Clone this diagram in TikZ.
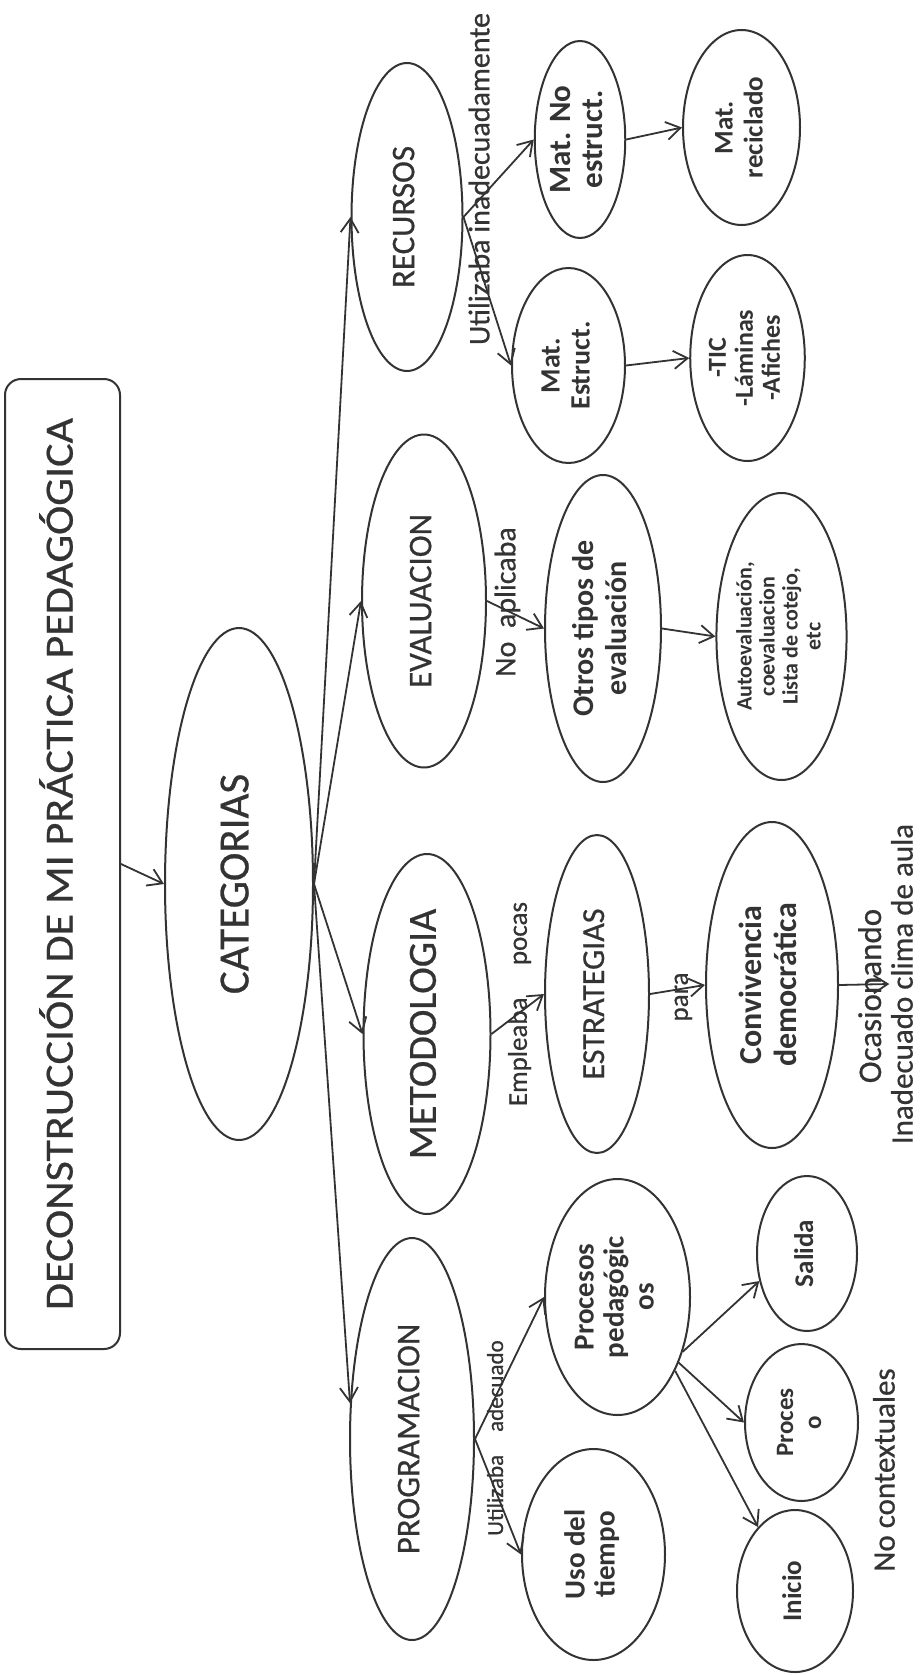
\documentclass[tikz,border=0pt]{standalone}
\usepackage{fontspec}
\setmainfont{Carlito}[UprightFeatures={FakeBold=0.6}]
\newfontfamily\titlefont{Carlito}[FakeStretch=1.1, FakeBold=0.6]
\usepackage{graphicx}
\usetikzlibrary{arrows.meta,shapes.geometric}
\definecolor{ink}{gray}{0.2}
\newcommand{\fs}[2]{\fontsize{#1}{#2}\selectfont}
\newcommand{\vtext}[1]{\rotatebox{90}{\makebox[0pt]{\begin{tabular}{@{}c@{}}#1\end{tabular}}}}
\tikzstyle{bubble}=[
	ellipse,
	draw=ink,
	line width=2pt,
	inner sep=0pt,
	text=ink
]
\tikzstyle{heading}=[
	rectangle,
	rounded corners=16pt,
	draw=ink,
	line width=2pt,
	inner sep=0pt,
	text=ink
]
\tikzstyle{category}=[bubble, font=\fs{33}{36}]
\tikzstyle{leaf}=[bubble, font=\bfseries\fs{29}{30}]
\tikzstyle{caption}=[inner sep=0pt, text=ink, font=\fs{30}{32}]
\tikzstyle{link}=[
	-{Straight Barb[length=14pt,width=18pt]},
	line width=1.8pt,
	draw=ink
]

\begin{document}
\begin{tikzpicture}[x=1pt, y=-1pt]
\useasboundingbox (0,0) rectangle (921,1675);
% title and root
\node [heading, minimum width=115pt, minimum height=970pt, font=\titlefont\fs{40}{44}] (Title) at (62.5,864) {\vtext{DECONSTRUCCIÓN DE MI PRÁCTICA PEDAGÓGICA}};
\node [bubble, minimum width=148pt, minimum height=512pt, font=\fs{43}{47}] (Categorias) at (239,884) {\vtext{CATEGORIAS}};
% categories
\node [category, minimum width=111pt, minimum height=308pt] (Recursos) at (407,217) {\vtext{RECURSOS}};
\node [category, minimum width=124pt, minimum height=333pt] (Evaluacion) at (424,601) {\vtext{EVALUACION}};
\node [category, minimum width=127pt, minimum height=360pt, font=\fs{40}{44}] (Metodologia) at (427,1034) {\vtext{METODOLOGIA}};
\node [category, minimum width=124pt, minimum height=402pt] (Programacion) at (412,1439) {\vtext{PROGRAMACION}};
% recursos
\node [leaf, minimum width=90pt, minimum height=197pt, font=\bfseries\fs{31}{32}] (MatNoEstruct) at (580,139.5) {\vtext{Mat. No\\estruct.}};
\node [leaf, minimum width=113pt, minimum height=195pt, font=\bfseries\fs{28}{30}] (MatEstruct) at (568.5,365.5) {\vtext{Mat.\\Estruct.}};
\node [leaf, minimum width=117pt, minimum height=195pt, font=\bfseries\fs{27}{30}] (MatReciclado) at (741.5,127.5) {\vtext{Mat.\\reciclado}};
\node [leaf, minimum width=105pt, minimum height=206pt, font=\bfseries\fs{26}{27}] (Tic) at (747.5,358) {\vtext{-TIC\\-Láminas\\-Afiches}};
% evaluacion
\node [leaf, minimum width=116pt, minimum height=307pt, font=\bfseries\fs{30}{33}] (OtrosTipos) at (603,628.5) {\vtext{Otros tipos de\\evaluación}};
\node [leaf, minimum width=127pt, minimum height=287pt, font=\bfseries\fs{22}{23}] (Autoevaluacion) at (781.5,636.5) {\vtext{Autoevaluación,\\coevaluacion\\Lista de cotejo,\\etc}};
% metodologia
\node [category, minimum width=104pt, minimum height=318pt, font=\fs{32}{35}] (Estrategias) at (597,994) {\vtext{ESTRATEGIAS}};
\node [leaf, minimum width=132pt, minimum height=326pt, font=\bfseries\fs{32}{35}] (Convivencia) at (772,985) {\vtext{Convivencia\\democrática}};
\node [caption, font=\fs{31}{33}] (Inadecuado) at (906,984) {\vtext{Inadecuado clima de aula}};
% programacion
\node [leaf, minimum width=145pt, minimum height=236pt] (ProcesosPedagogicos) at (617.5,1297) {\vtext{Procesos\\pedagógic\\os}};
\node [leaf, minimum width=143pt, minimum height=211pt] (UsoTiempo) at (593.5,1554.5) {\vtext{Uso del\\tiempo}};
\node [leaf, minimum width=100pt, minimum height=155pt, font=\bfseries\fs{27}{30}] (Salida) at (807,1253.5) {\vtext{Salida}};
\node [leaf, minimum width=113pt, minimum height=157pt, font=\bfseries\fs{25}{28}] (Proceso) at (801.5,1422.5) {\vtext{Proces\\o}};
\node [leaf, minimum width=116pt, minimum height=162pt, font=\bfseries\fs{27}{30}] (Inicio) at (795,1591) {\vtext{Inicio}};
\node [caption, font=\fs{31}{33}] (NoContextuales) at (888,1470) {\vtext{No contextuales}};

% connectors
\draw [link] (Title.east) -- (Categorias.west);
\path (Categorias.east)
	edge [link] (Recursos.west)
	edge [link] (Evaluacion.west)
	edge [link] (Metodologia.west)
	edge [link] (Programacion.150);
\path (Recursos.east)
	edge [link] (MatNoEstruct.west)
	edge [link] (MatEstruct.west);
\draw [link] (MatNoEstruct.east) -- (MatReciclado.west);
\draw [link] (MatEstruct.east) -- (Tic.west);
\draw [link] (Evaluacion.east) -- (OtrosTipos.west);
\draw [link] (OtrosTipos.east) -- (Autoevaluacion.west);
\draw [link] (Metodologia.east) -- (Estrategias.west);
\draw [link] (Estrategias.east) -- (Convivencia.west);
\draw [link] (Convivencia.east) -- (Inadecuado.west);
\path (Programacion.east)
	edge [link] (UsoTiempo.west)
	edge [link] (ProcesosPedagogicos.west);
\draw [link] (ProcesosPedagogicos.-40) -- (Salida.210);
\draw [link] (ProcesosPedagogicos.-47) -- (Proceso.west);
\draw [link] (ProcesosPedagogicos.-52) -- (Inicio.120);

% connector labels
\node [caption] (UtilizabaInadecuadamente) at (483,179) {\vtext{Utilizaba inadecuadamente}};
\node [caption] (NoAplicaba) at (509,602) {\vtext{No\ \ aplicaba}};
\node [caption, font=\fs{27}{29}] (EmpleabaPocas) at (521,1004) {\vtext{Empleaba\hspace{1.2em}pocas}};
\node [caption, font=\fs{27}{29}] (Para) at (682,997) {\vtext{para}};
\node [caption, font=\fs{33}{35}] (Ocasionando) at (874,996) {\vtext{Ocasionando}};
\node [caption, font=\fs{23}{25}] (UtilizabaAdecuado) at (498,1438) {\vtext{Utilizaba\hspace{1em}adecuado}};
\end{tikzpicture}
\end{document}
